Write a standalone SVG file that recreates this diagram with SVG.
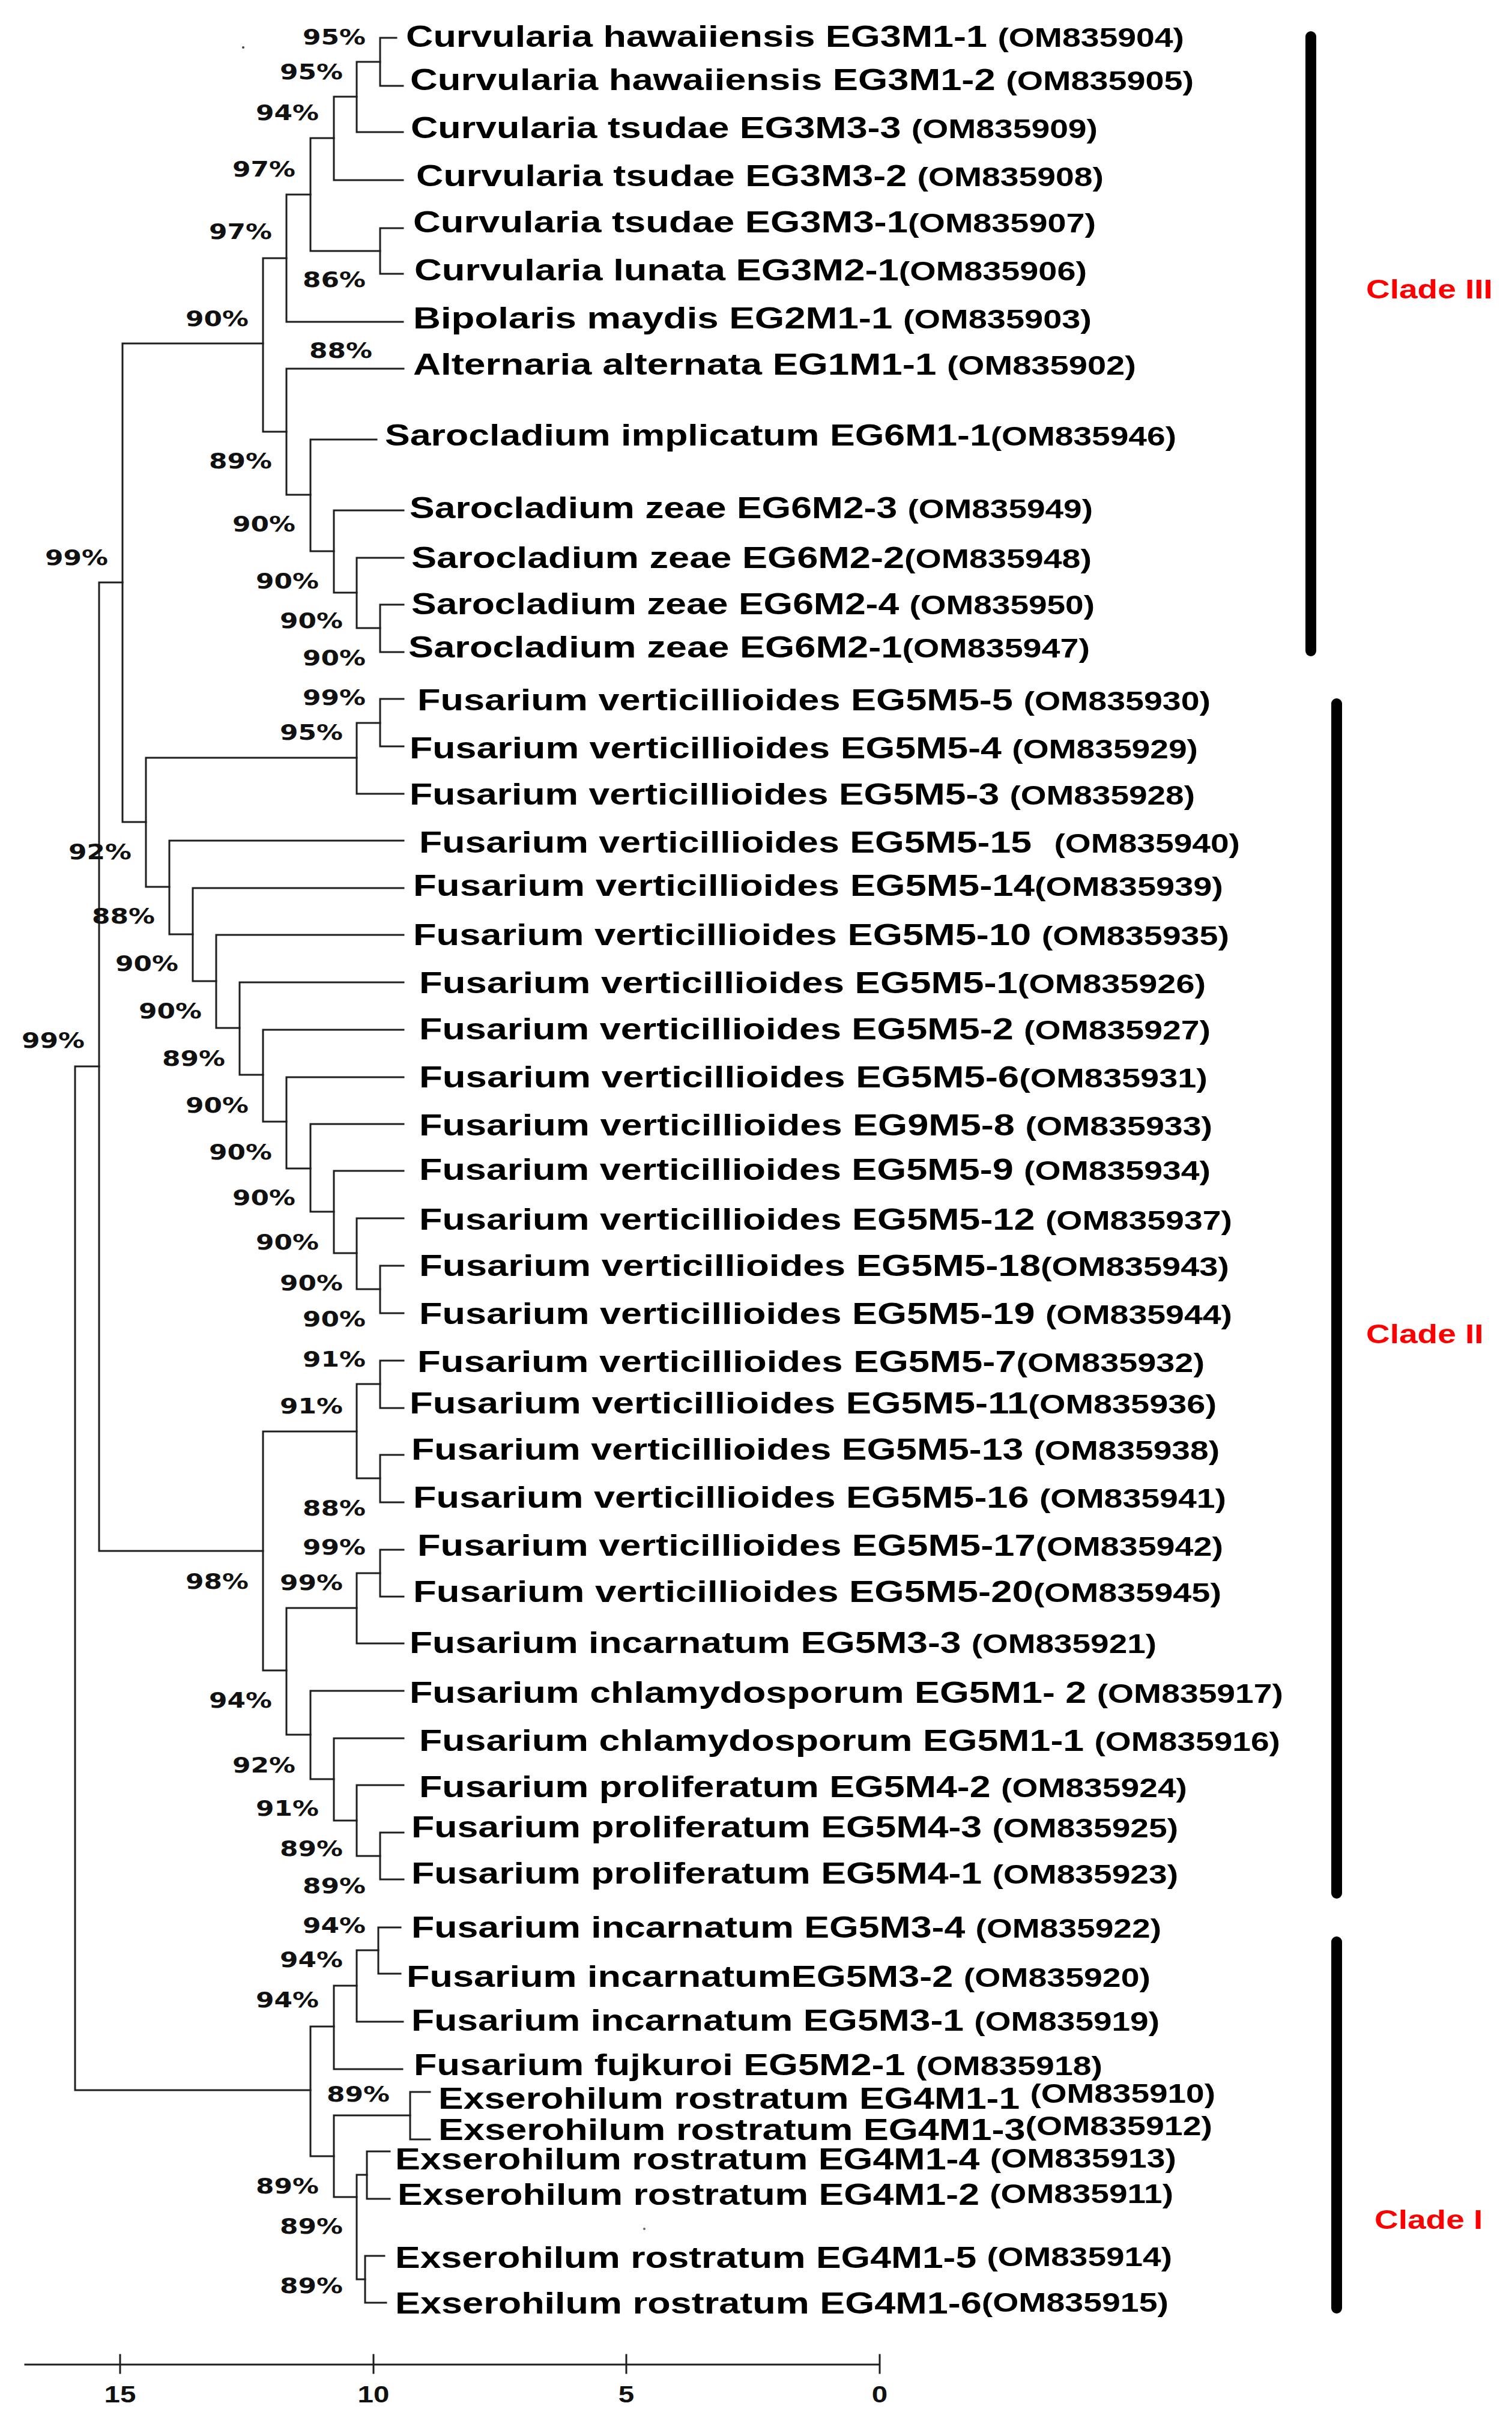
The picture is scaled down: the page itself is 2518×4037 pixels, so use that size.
<svg xmlns="http://www.w3.org/2000/svg" width="2518" height="4037" viewBox="0 0 2518 4037">
<style>
.br{fill:none;stroke:#1e1e1e;stroke-width:3;stroke-linecap:square}
.bar{stroke:#000;stroke-width:18;stroke-linecap:round}
.nm{font-family:"Liberation Sans",Arial,sans-serif;font-weight:bold;font-size:50px;fill:#000}
.acc{font-size:44px}
.bs{font-family:"DejaVu Sans",Verdana,sans-serif;font-weight:bold;font-size:36px;fill:#111}
.ax{font-family:"Liberation Sans",Arial,sans-serif;font-weight:bold;font-size:38px;fill:#111;text-anchor:middle}
.cl{font-family:"Liberation Sans",Arial,sans-serif;font-weight:bold;font-size:44px;fill:#ff0000}
</style>
<rect width="2518" height="4037" fill="#fff"/>
<g id="connectors">
<path class="br" d="M660,63 H633 V143 H671"/>
<path class="br" d="M633,103 H594 V220 H671"/>
<path class="br" d="M594,161 H556 V300 H671"/>
<path class="br" d="M671,380 H633 V456 H671"/>
<path class="br" d="M556,230 H517 V418 H633"/>
<path class="br" d="M517,324 H477 V536 H671"/>
<path class="br" d="M672,1007 H633 V1086 H672"/>
<path class="br" d="M672,929 H594 V1046 H633"/>
<path class="br" d="M672,850 H556 V987 H594"/>
<path class="br" d="M627,732 H517 V918 H556"/>
<path class="br" d="M672,614 H477 V824 H517"/>
<path class="br" d="M477,430 H438 V719 H477"/>
<path class="br" d="M438,572 H204 V1369 H243"/>
<path class="br" d="M672,1164 H633 V1243 H672"/>
<path class="br" d="M633,1204 H594 V1322 H672"/>
<path class="br" d="M594,1262 H243 V1477 H282"/>
<path class="br" d="M672,1400 H282 V1556 H321"/>
<path class="br" d="M672,1479 H321 V1634 H360"/>
<path class="br" d="M672,1557 H360 V1712 H399"/>
<path class="br" d="M672,1636 H399 V1790 H438"/>
<path class="br" d="M672,1715 H438 V1868 H477"/>
<path class="br" d="M672,1794 H477 V1946 H517"/>
<path class="br" d="M672,1872 H517 V2018 H556"/>
<path class="br" d="M672,1950 H556 V2087 H594"/>
<path class="br" d="M672,2029 H594 V2147 H633"/>
<path class="br" d="M672,2108 H633 V2187 H672"/>
<path class="br" d="M204,970 H165 V2583 H438"/>
<path class="br" d="M594,2384 H438 V2782 H477"/>
<path class="br" d="M672,2266 H633 V2345 H672"/>
<path class="br" d="M672,2423 H633 V2502 H672"/>
<path class="br" d="M633,2305 H594 V2462 H633"/>
<path class="br" d="M672,2581 H633 V2659 H672"/>
<path class="br" d="M633,2620 H594 V2737 H672"/>
<path class="br" d="M672,3052 H633 V3130 H672"/>
<path class="br" d="M672,2973 H594 V3091 H633"/>
<path class="br" d="M672,2895 H556 V3032 H594"/>
<path class="br" d="M672,2816 H517 V2963 H556"/>
<path class="br" d="M594,2678 H477 V2889 H517"/>
<path class="br" d="M165,1776 H125 V3481 H517"/>
<path class="br" d="M556,3375 H517 V3591 H556"/>
<path class="br" d="M667,3210 H630 V3287 H667"/>
<path class="br" d="M630,3248 H594 V3367 H671"/>
<path class="br" d="M594,3307 H556 V3446 H670"/>
<path class="br" d="M716,3484 H683 V3563 H716"/>
<path class="br" d="M649,3583 H611 V3662 H649"/>
<path class="br" d="M640,3757 H608 V3835 H643"/>
<path class="br" d="M611,3622 H594 V3796 H608"/>
<path class="br" d="M683,3523 H556 V3659 H594"/>
</g>
<g id="bootstrap">
<text class="bs" x="504" y="74" textLength="105" lengthAdjust="spacingAndGlyphs">95%</text>
<text class="bs" x="466" y="132" textLength="105" lengthAdjust="spacingAndGlyphs">95%</text>
<text class="bs" x="426" y="200" textLength="105" lengthAdjust="spacingAndGlyphs">94%</text>
<text class="bs" x="387" y="294" textLength="105" lengthAdjust="spacingAndGlyphs">97%</text>
<text class="bs" x="348" y="398" textLength="105" lengthAdjust="spacingAndGlyphs">97%</text>
<text class="bs" x="504" y="478" textLength="105" lengthAdjust="spacingAndGlyphs">86%</text>
<text class="bs" x="309" y="543" textLength="105" lengthAdjust="spacingAndGlyphs">90%</text>
<text class="bs" x="515" y="596" textLength="105" lengthAdjust="spacingAndGlyphs">88%</text>
<text class="bs" x="348" y="780" textLength="105" lengthAdjust="spacingAndGlyphs">89%</text>
<text class="bs" x="387" y="885" textLength="105" lengthAdjust="spacingAndGlyphs">90%</text>
<text class="bs" x="426" y="980" textLength="105" lengthAdjust="spacingAndGlyphs">90%</text>
<text class="bs" x="466" y="1046" textLength="105" lengthAdjust="spacingAndGlyphs">90%</text>
<text class="bs" x="504" y="1108" textLength="105" lengthAdjust="spacingAndGlyphs">90%</text>
<text class="bs" x="75" y="941" textLength="105" lengthAdjust="spacingAndGlyphs">99%</text>
<text class="bs" x="504" y="1174" textLength="105" lengthAdjust="spacingAndGlyphs">99%</text>
<text class="bs" x="466" y="1232" textLength="105" lengthAdjust="spacingAndGlyphs">95%</text>
<text class="bs" x="114" y="1431" textLength="105" lengthAdjust="spacingAndGlyphs">92%</text>
<text class="bs" x="153" y="1538" textLength="105" lengthAdjust="spacingAndGlyphs">88%</text>
<text class="bs" x="192" y="1617" textLength="105" lengthAdjust="spacingAndGlyphs">90%</text>
<text class="bs" x="231" y="1696" textLength="105" lengthAdjust="spacingAndGlyphs">90%</text>
<text class="bs" x="270" y="1775" textLength="105" lengthAdjust="spacingAndGlyphs">89%</text>
<text class="bs" x="309" y="1853" textLength="105" lengthAdjust="spacingAndGlyphs">90%</text>
<text class="bs" x="348" y="1931" textLength="105" lengthAdjust="spacingAndGlyphs">90%</text>
<text class="bs" x="387" y="2007" textLength="105" lengthAdjust="spacingAndGlyphs">90%</text>
<text class="bs" x="426" y="2081" textLength="105" lengthAdjust="spacingAndGlyphs">90%</text>
<text class="bs" x="466" y="2149" textLength="105" lengthAdjust="spacingAndGlyphs">90%</text>
<text class="bs" x="504" y="2209" textLength="105" lengthAdjust="spacingAndGlyphs">90%</text>
<text class="bs" x="36" y="1745" textLength="105" lengthAdjust="spacingAndGlyphs">99%</text>
<text class="bs" x="504" y="2276" textLength="105" lengthAdjust="spacingAndGlyphs">91%</text>
<text class="bs" x="466" y="2354" textLength="105" lengthAdjust="spacingAndGlyphs">91%</text>
<text class="bs" x="504" y="2524" textLength="105" lengthAdjust="spacingAndGlyphs">88%</text>
<text class="bs" x="504" y="2589" textLength="105" lengthAdjust="spacingAndGlyphs">99%</text>
<text class="bs" x="309" y="2646" textLength="105" lengthAdjust="spacingAndGlyphs">98%</text>
<text class="bs" x="466" y="2648" textLength="105" lengthAdjust="spacingAndGlyphs">99%</text>
<text class="bs" x="348" y="2844" textLength="105" lengthAdjust="spacingAndGlyphs">94%</text>
<text class="bs" x="387" y="2952" textLength="105" lengthAdjust="spacingAndGlyphs">92%</text>
<text class="bs" x="426" y="3024" textLength="105" lengthAdjust="spacingAndGlyphs">91%</text>
<text class="bs" x="466" y="3091" textLength="105" lengthAdjust="spacingAndGlyphs">89%</text>
<text class="bs" x="504" y="3153" textLength="105" lengthAdjust="spacingAndGlyphs">89%</text>
<text class="bs" x="504" y="3219" textLength="105" lengthAdjust="spacingAndGlyphs">94%</text>
<text class="bs" x="466" y="3276" textLength="105" lengthAdjust="spacingAndGlyphs">94%</text>
<text class="bs" x="426" y="3343" textLength="105" lengthAdjust="spacingAndGlyphs">94%</text>
<text class="bs" x="544" y="3500" textLength="105" lengthAdjust="spacingAndGlyphs">89%</text>
<text class="bs" x="426" y="3653" textLength="105" lengthAdjust="spacingAndGlyphs">89%</text>
<text class="bs" x="466" y="3720" textLength="105" lengthAdjust="spacingAndGlyphs">89%</text>
<text class="bs" x="466" y="3819" textLength="105" lengthAdjust="spacingAndGlyphs">89%</text>
</g>
<g id="leaf01"><text class="nm" x="676" y="78" textLength="1296" lengthAdjust="spacingAndGlyphs">Curvularia hawaiiensis EG3M1-1 <tspan class="acc">(OM835904)</tspan></text></g>
<g id="leaf02"><text class="nm" x="683" y="150" textLength="1305" lengthAdjust="spacingAndGlyphs">Curvularia hawaiiensis EG3M1-2 <tspan class="acc">(OM835905)</tspan></text></g>
<g id="leaf03"><text class="nm" x="684" y="230" textLength="1144" lengthAdjust="spacingAndGlyphs">Curvularia tsudae EG3M3-3 <tspan class="acc">(OM835909)</tspan></text></g>
<g id="leaf04"><text class="nm" x="693" y="310" textLength="1145" lengthAdjust="spacingAndGlyphs">Curvularia tsudae EG3M3-2 <tspan class="acc">(OM835908)</tspan></text></g>
<g id="leaf05"><text class="nm" x="688" y="387" textLength="1137" lengthAdjust="spacingAndGlyphs">Curvularia tsudae EG3M3-1<tspan class="acc">(OM835907)</tspan></text></g>
<g id="leaf06"><text class="nm" x="690" y="467" textLength="1120" lengthAdjust="spacingAndGlyphs">Curvularia lunata EG3M2-1<tspan class="acc">(OM835906)</tspan></text></g>
<g id="leaf07"><text class="nm" x="688" y="547" textLength="1130" lengthAdjust="spacingAndGlyphs">Bipolaris maydis EG2M1-1 <tspan class="acc">(OM835903)</tspan></text></g>
<g id="leaf08"><text class="nm" x="688" y="624" textLength="1204" lengthAdjust="spacingAndGlyphs">Alternaria alternata EG1M1-1 <tspan class="acc">(OM835902)</tspan></text></g>
<g id="leaf09"><text class="nm" x="641" y="742" textLength="1318" lengthAdjust="spacingAndGlyphs">Sarocladium implicatum EG6M1-1<tspan class="acc">(OM835946)</tspan></text></g>
<g id="leaf10"><text class="nm" x="682" y="863" textLength="1138" lengthAdjust="spacingAndGlyphs">Sarocladium zeae EG6M2-3 <tspan class="acc">(OM835949)</tspan></text></g>
<g id="leaf11"><text class="nm" x="685" y="946" textLength="1133" lengthAdjust="spacingAndGlyphs">Sarocladium zeae EG6M2-2<tspan class="acc">(OM835948)</tspan></text></g>
<g id="leaf12"><text class="nm" x="685" y="1023" textLength="1138" lengthAdjust="spacingAndGlyphs">Sarocladium zeae EG6M2-4 <tspan class="acc">(OM835950)</tspan></text></g>
<g id="leaf13"><text class="nm" x="680" y="1095" textLength="1135" lengthAdjust="spacingAndGlyphs">Sarocladium zeae EG6M2-1<tspan class="acc">(OM835947)</tspan></text></g>
<g id="leaf14"><text class="nm" x="695" y="1183" textLength="1321" lengthAdjust="spacingAndGlyphs">Fusarium verticillioides EG5M5-5 <tspan class="acc">(OM835930)</tspan></text></g>
<g id="leaf15"><text class="nm" x="682" y="1263" textLength="1313" lengthAdjust="spacingAndGlyphs">Fusarium verticillioides EG5M5-4 <tspan class="acc">(OM835929)</tspan></text></g>
<g id="leaf16"><text class="nm" x="682" y="1340" textLength="1308" lengthAdjust="spacingAndGlyphs">Fusarium verticillioides EG5M5-3 <tspan class="acc">(OM835928)</tspan></text></g>
<g id="leaf17"><text class="nm" x="698" y="1420" textLength="1367" lengthAdjust="spacingAndGlyphs">Fusarium verticillioides EG5M5-15 <tspan class="acc" dx="16">(OM835940)</tspan></text></g>
<g id="leaf18"><text class="nm" x="688" y="1492" textLength="1349" lengthAdjust="spacingAndGlyphs">Fusarium verticillioides EG5M5-14<tspan class="acc">(OM835939)</tspan></text></g>
<g id="leaf19"><text class="nm" x="688" y="1574" textLength="1359" lengthAdjust="spacingAndGlyphs">Fusarium verticillioides EG5M5-10 <tspan class="acc">(OM835935)</tspan></text></g>
<g id="leaf20"><text class="nm" x="698" y="1654" textLength="1310" lengthAdjust="spacingAndGlyphs">Fusarium verticillioides EG5M5-1<tspan class="acc">(OM835926)</tspan></text></g>
<g id="leaf21"><text class="nm" x="698" y="1731" textLength="1318" lengthAdjust="spacingAndGlyphs">Fusarium verticillioides EG5M5-2 <tspan class="acc">(OM835927)</tspan></text></g>
<g id="leaf22"><text class="nm" x="698" y="1811" textLength="1313" lengthAdjust="spacingAndGlyphs">Fusarium verticillioides EG5M5-6<tspan class="acc">(OM835931)</tspan></text></g>
<g id="leaf23"><text class="nm" x="698" y="1891" textLength="1321" lengthAdjust="spacingAndGlyphs">Fusarium verticillioides EG9M5-8 <tspan class="acc">(OM835933)</tspan></text></g>
<g id="leaf24"><text class="nm" x="698" y="1965" textLength="1318" lengthAdjust="spacingAndGlyphs">Fusarium verticillioides EG5M5-9 <tspan class="acc">(OM835934)</tspan></text></g>
<g id="leaf25"><text class="nm" x="698" y="2048" textLength="1354" lengthAdjust="spacingAndGlyphs">Fusarium verticillioides EG5M5-12 <tspan class="acc">(OM835937)</tspan></text></g>
<g id="leaf26"><text class="nm" x="698" y="2125" textLength="1349" lengthAdjust="spacingAndGlyphs">Fusarium verticillioides EG5M5-18<tspan class="acc">(OM835943)</tspan></text></g>
<g id="leaf27"><text class="nm" x="698" y="2205" textLength="1354" lengthAdjust="spacingAndGlyphs">Fusarium verticillioides EG5M5-19 <tspan class="acc">(OM835944)</tspan></text></g>
<g id="leaf28"><text class="nm" x="695" y="2285" textLength="1311" lengthAdjust="spacingAndGlyphs">Fusarium verticillioides EG5M5-7<tspan class="acc">(OM835932)</tspan></text></g>
<g id="leaf29"><text class="nm" x="682" y="2354" textLength="1344" lengthAdjust="spacingAndGlyphs">Fusarium verticillioides EG5M5-11<tspan class="acc">(OM835936)</tspan></text></g>
<g id="leaf30"><text class="nm" x="685" y="2431" textLength="1346" lengthAdjust="spacingAndGlyphs">Fusarium verticillioides EG5M5-13 <tspan class="acc">(OM835938)</tspan></text></g>
<g id="leaf31"><text class="nm" x="688" y="2511" textLength="1354" lengthAdjust="spacingAndGlyphs">Fusarium verticillioides EG5M5-16 <tspan class="acc">(OM835941)</tspan></text></g>
<g id="leaf32"><text class="nm" x="695" y="2591" textLength="1342" lengthAdjust="spacingAndGlyphs">Fusarium verticillioides EG5M5-17<tspan class="acc">(OM835942)</tspan></text></g>
<g id="leaf33"><text class="nm" x="688" y="2668" textLength="1346" lengthAdjust="spacingAndGlyphs">Fusarium verticillioides EG5M5-20<tspan class="acc">(OM835945)</tspan></text></g>
<g id="leaf34"><text class="nm" x="682" y="2753" textLength="1244" lengthAdjust="spacingAndGlyphs">Fusarium incarnatum EG5M3-3 <tspan class="acc">(OM835921)</tspan></text></g>
<g id="leaf35"><text class="nm" x="682" y="2836" textLength="1455" lengthAdjust="spacingAndGlyphs">Fusarium chlamydosporum EG5M1- 2 <tspan class="acc">(OM835917)</tspan></text></g>
<g id="leaf36"><text class="nm" x="698" y="2916" textLength="1434" lengthAdjust="spacingAndGlyphs">Fusarium chlamydosporum EG5M1-1 <tspan class="acc">(OM835916)</tspan></text></g>
<g id="leaf37"><text class="nm" x="698" y="2993" textLength="1279" lengthAdjust="spacingAndGlyphs">Fusarium proliferatum EG5M4-2 <tspan class="acc">(OM835924)</tspan></text></g>
<g id="leaf38"><text class="nm" x="685" y="3060" textLength="1277" lengthAdjust="spacingAndGlyphs">Fusarium proliferatum EG5M4-3 <tspan class="acc">(OM835925)</tspan></text></g>
<g id="leaf39"><text class="nm" x="685" y="3137" textLength="1277" lengthAdjust="spacingAndGlyphs">Fusarium proliferatum EG5M4-1 <tspan class="acc">(OM835923)</tspan></text></g>
<g id="leaf40"><text class="nm" x="685" y="3227" textLength="1249" lengthAdjust="spacingAndGlyphs">Fusarium incarnatum EG5M3-4 <tspan class="acc">(OM835922)</tspan></text></g>
<g id="leaf41"><text class="nm" x="677" y="3309" textLength="1239" lengthAdjust="spacingAndGlyphs">Fusarium incarnatumEG5M3-2 <tspan class="acc">(OM835920)</tspan></text></g>
<g id="leaf42"><text class="nm" x="685" y="3382" textLength="1246" lengthAdjust="spacingAndGlyphs">Fusarium incarnatum EG5M3-1 <tspan class="acc">(OM835919)</tspan></text></g>
<g id="leaf43"><text class="nm" x="689" y="3456" textLength="1147" lengthAdjust="spacingAndGlyphs">Fusarium fujkuroi EG5M2-1 <tspan class="acc">(OM835918)</tspan></text></g>
<g id="leaf44"><text class="nm" x="730" y="3512" textLength="1294" lengthAdjust="spacingAndGlyphs">Exserohilum rostratum EG4M1-1 <tspan class="acc" dy="-10">(OM835910)</tspan></text></g>
<g id="leaf45"><text class="nm" x="730" y="3564" textLength="1289" lengthAdjust="spacingAndGlyphs">Exserohilum rostratum EG4M1-3<tspan class="acc" dy="-8">(OM835912)</tspan></text></g>
<g id="leaf46"><text class="nm" x="658" y="3613" textLength="1301" lengthAdjust="spacingAndGlyphs">Exserohilum rostratum EG4M1-4 <tspan class="acc" dy="-3">(OM835913)</tspan></text></g>
<g id="leaf47"><text class="nm" x="662" y="3672" textLength="1292" lengthAdjust="spacingAndGlyphs">Exserohilum rostratum EG4M1-2 <tspan class="acc" dy="-3">(OM835911)</tspan></text></g>
<g id="leaf48"><text class="nm" x="658" y="3777" textLength="1294" lengthAdjust="spacingAndGlyphs">Exserohilum rostratum EG4M1-5 <tspan class="acc" dy="-3">(OM835914)</tspan></text></g>
<g id="leaf49"><text class="nm" x="658" y="3853" textLength="1288" lengthAdjust="spacingAndGlyphs">Exserohilum rostratum EG4M1-6<tspan class="acc" dy="-3">(OM835915)</tspan></text></g>
<g id="clades">
<line class="bar" x1="2183" y1="61" x2="2183" y2="1084"/>
<line class="bar" x1="2226" y1="1172" x2="2226" y2="3153"/>
<line class="bar" x1="2226" y1="3234" x2="2226" y2="3844"/>
<text class="cl" transform="translate(2275,497) scale(1.25,1)">Clade III</text>
<text class="cl" transform="translate(2275,2237) scale(1.25,1)">Clade II</text>
<text class="cl" transform="translate(2289,3712) scale(1.25,1)">Clade I</text>
</g>
<g id="scale-axis">
<path class="br" d="M42,3938 H1465 M200,3922 V3952 M622,3922 V3952 M1043,3922 V3952 M1465,3922 V3952"/>
<text class="ax" transform="translate(200,4001) scale(1.25,1)">15</text>
<text class="ax" transform="translate(622,4001) scale(1.25,1)">10</text>
<text class="ax" transform="translate(1043,4001) scale(1.25,1)">5</text>
<text class="ax" transform="translate(1465,4001) scale(1.25,1)">0</text>
</g>
<circle cx="405" cy="79" r="2" fill="#444"/>
<circle cx="1073" cy="3712" r="2" fill="#666"/>
</svg>
